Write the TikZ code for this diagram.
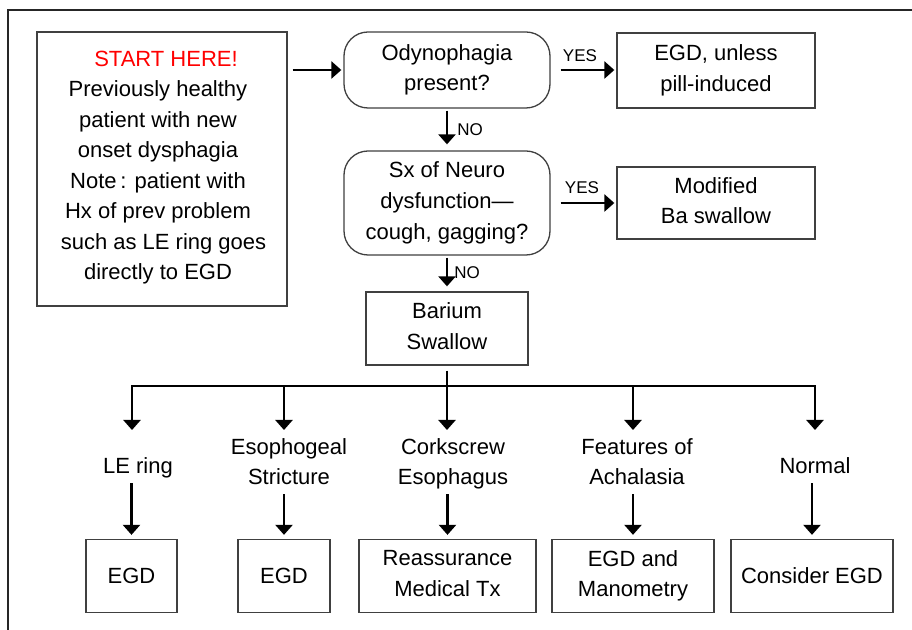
\documentclass[tikz,border=0pt]{standalone}
\usepackage{fontspec}
\setmainfont{Liberation Sans}
\usetikzlibrary{arrows.meta,calc}
\newcommand{\mystrut}{\rule[-2.5pt]{0pt}{13pt}}
\begin{document}
\begin{tikzpicture}[x=0.5pt,y=-0.5pt,
  txt/.style={align=center, font=\fontsize{11}{15.3}\selectfont,
    execute at begin node=\mystrut, execute at end node=\mystrut},
  box/.style={txt, draw=black!75, line width=0.65pt, inner sep=0pt},
  rbox/.style={box, rounded corners=12pt},
  lab/.style={txt, inner sep=1pt},
  small/.style={font=\fontsize{8.5}{10}\selectfont, inner sep=0pt},
  arr/.style={line width=1.35pt, -{Triangle[width=8.5pt,length=5pt]}},
]
\useasboundingbox (0,0) rectangle (912,630);
\fill[white] (0,0) rectangle (912,630);
\coordinate (fbl) at (8,630);
\coordinate (ftl) at (8,10);
\coordinate (ftr) at (912,10);
\draw[line width=1pt, black!85] (fbl) -- (ftl) -- (ftr);

% start box
\node[box, minimum width=125pt, minimum height=137pt] (start) at (162,169) {};
\node[txt, font=\fontsize{11}{15.25}\selectfont] (starttxt) at (158,168) {\hspace*{8pt}\textcolor{red}{START HERE!}\\Previously healthy\hspace*{1.5pt}\\patient with new\hspace*{8.5pt}\\onset dysphagia\\Note\,: patient with\hspace*{5.5pt}\\Hx of prev problem\hspace*{2.5pt}\\\hspace*{5.5pt}such as LE ring goes\\directly to EGD};

% decisions
\node[rbox, minimum width=103pt, minimum height=38pt] (odyn) at (447,70) {Odynophagia\\present?};
\node[box, minimum width=99pt, minimum height=37.5pt] (egd0) at (716,70.5) {EGD, unless\\pill-induced};
\node[rbox, minimum width=103pt, minimum height=52pt] (neuro) at (447,203) {Sx of Neuro\\dysfunction---\\cough, gagging?};
\node[box, minimum width=99pt, minimum height=36pt] (mod) at (716,203) {Modified\\Ba swallow};
\node[box, minimum width=81pt, minimum height=36.5pt] (bar) at (447,328.5) {Barium\\Swallow};

\draw[arr, shorten <=2.5pt, shorten >=1pt] (start.east |- odyn) -- (odyn.west);
\draw[arr, shorten <=5pt, shorten >=1pt] (odyn.east) -- (egd0.west |- odyn.east);
\node[small] (yes1) at (580,56) {YES};
\draw[arr, shorten <=1pt, shorten >=3pt] (odyn.south) -- (neuro.north);
\node[small] (no1) at (470,130) {NO};
\draw[arr, shorten <=5pt, shorten >=1pt] (neuro.east) -- (mod.west |- neuro.east);
\node[small] (yes2) at (582,188) {YES};
\draw[arr, shorten <=1pt, shorten >=2.5pt] (neuro.south) -- (bar.north);
\node[small] (no2) at (467,273) {NO};

% bus
\coordinate (bus) at (447,386);
\coordinate (d1) at (132,430);
\coordinate (d2) at (284,430);
\coordinate (d3) at (447,430);
\coordinate (d4) at (633,430);
\coordinate (d5) at (815,430);
\draw[line width=1.35pt, line cap=rect] (d1 |- bus) -- (d5 |- bus);
\draw[arr, shorten <=2.5pt] (bar.south) -- (d3);
\foreach \d in {d1,d2,d4,d5} \draw[arr] (\d |- bus) -- (\d);

% labels
\node[lab] (l1) at (138,466) {LE ring};
\node[lab] (l2) at (289,464) {Esophogeal\\Stricture};
\node[lab] (l3) at (453,464) {Corkscrew\\Esophagus};
\node[lab] (l4) at (637,464) {Features of\\Achalasia};
\node[lab] (l5) at (815,466) {Normal};

% bottom boxes
\node[box, minimum width=45.5pt, minimum height=36.5pt] (b1) at (131.5,576) {EGD};
\node[box, minimum width=46pt, minimum height=36.5pt] (b2) at (284,576) {EGD};
\node[box, minimum width=88.5pt, minimum height=36.5pt] (b3) at (447.5,576) {Reassurance\\Medical Tx};
\node[box, minimum width=81pt, minimum height=36.5pt] (b4) at (633,576) {EGD and\\Manometry};
\node[box, minimum width=81pt, minimum height=36.5pt] (b5) at (812,576) {Consider EGD};

\foreach \i in {1,...,5} \draw[arr, shorten <=1pt, shorten >=2pt] (l\i.south -| b\i.north) -- (b\i.north);
\end{tikzpicture}
\end{document}
